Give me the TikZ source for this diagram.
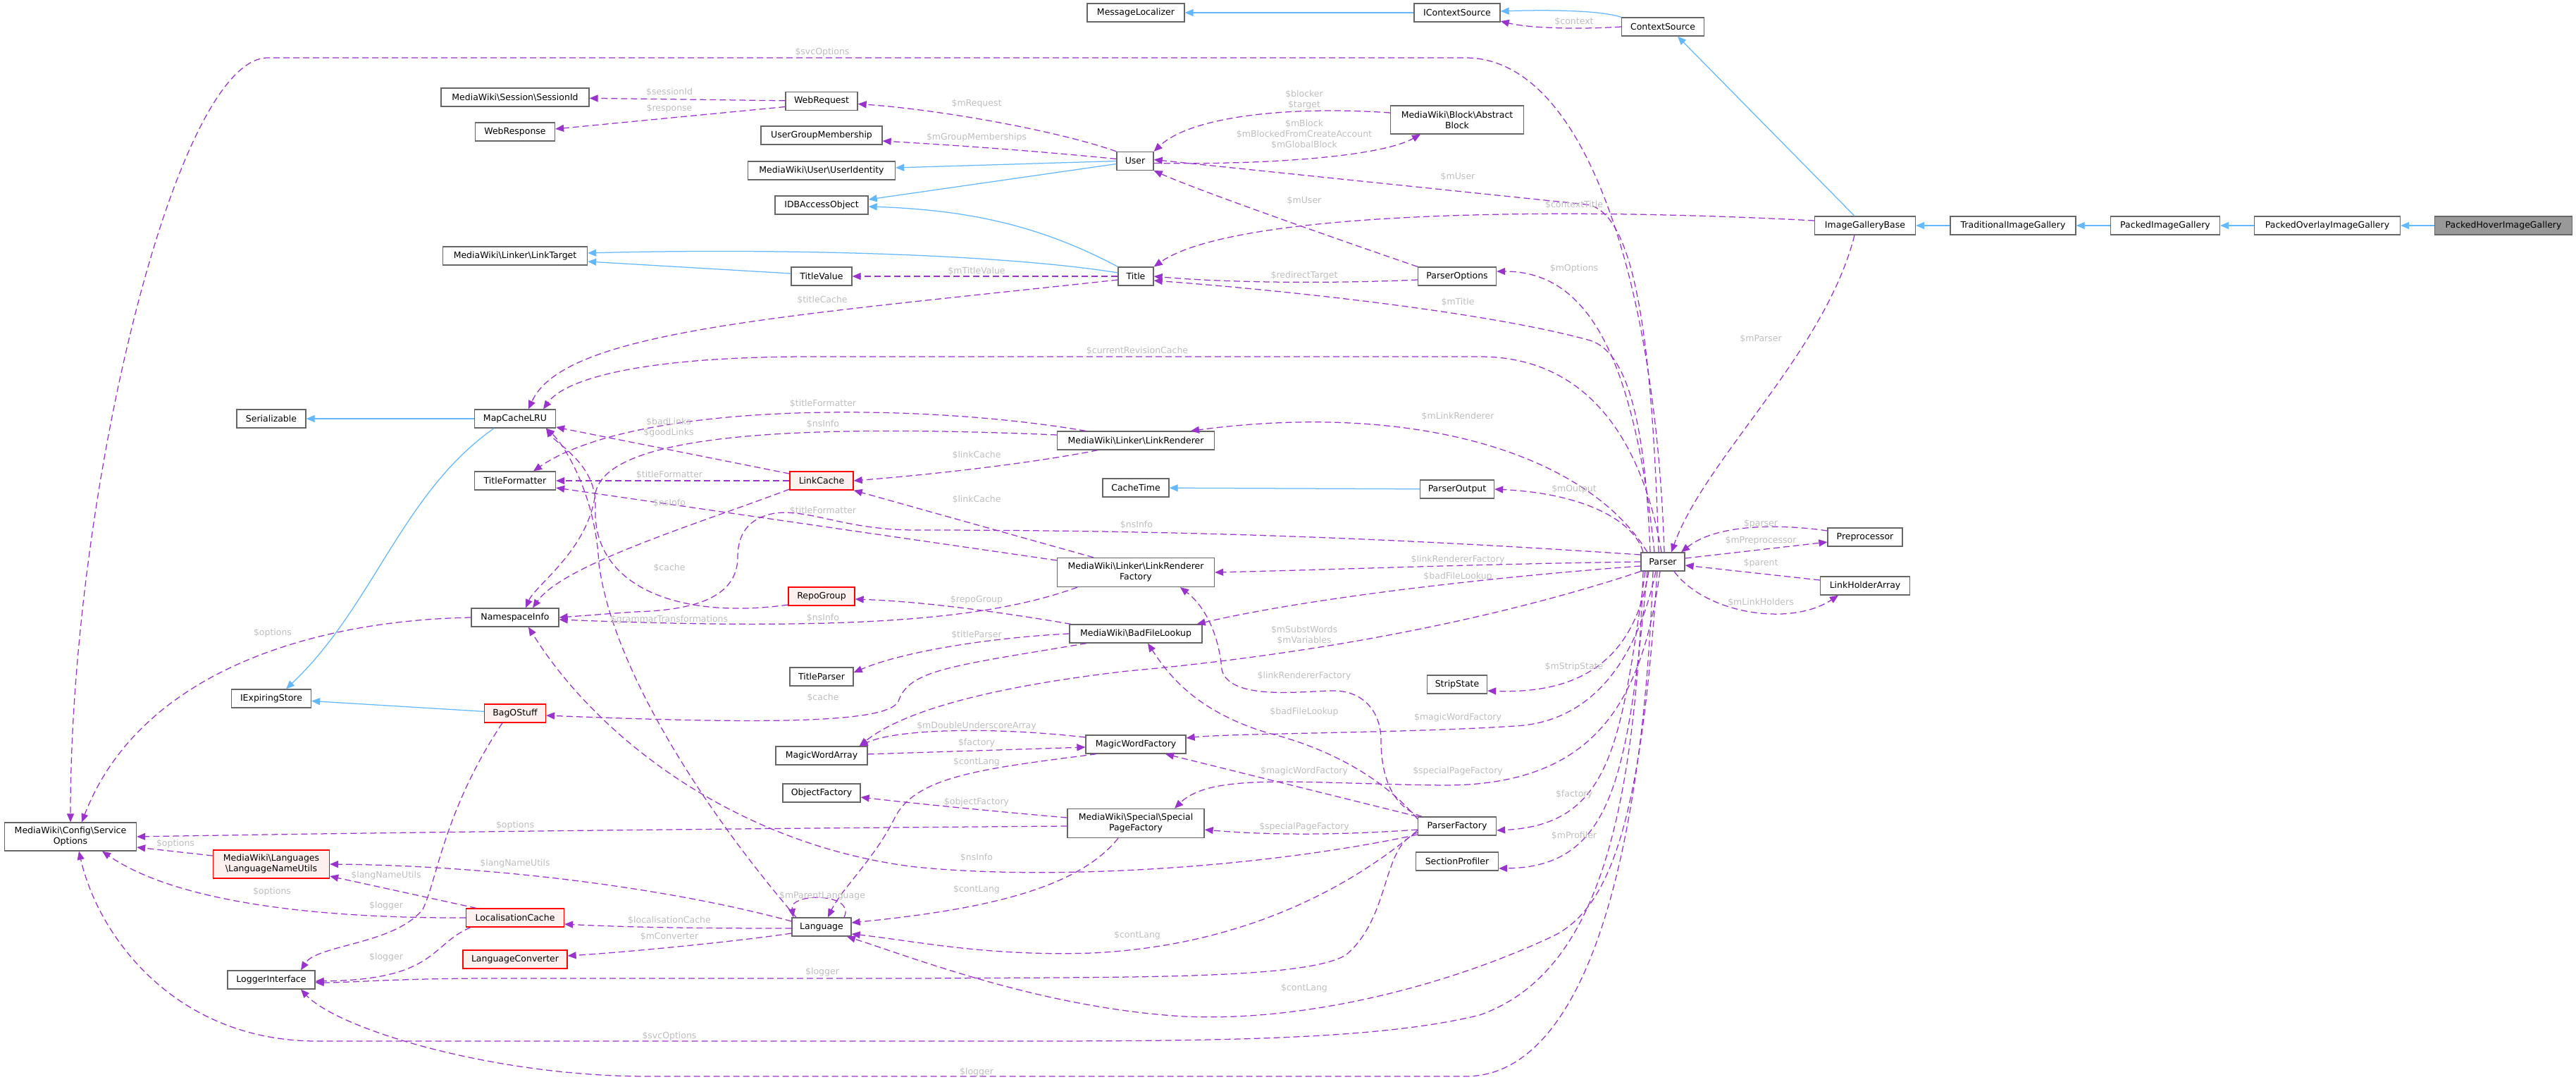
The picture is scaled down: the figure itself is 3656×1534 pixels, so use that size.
\documentclass[tikz,border=0pt]{standalone}
\usepackage{fontspec}
\setmainfont{DejaVu Sans}
\usepackage{tikz}
\usetikzlibrary{arrows.meta}
\definecolor{edgeuse}{HTML}{9A32CD}
\definecolor{edgeinh}{HTML}{63B8FF}
\definecolor{boxline}{HTML}{666666}
\definecolor{lblgray}{HTML}{BEBEBE}
\definecolor{truncfill}{HTML}{FFF0F0}
\definecolor{curfill}{HTML}{999999}
\begin{document}
\begin{tikzpicture}[x = 1pt, y = -1pt,
 cls/.style = {draw = boxline, fill = white, line width = 1.3pt, minimum height = 26pt, inner xsep = 2pt, inner ysep = 2pt, align = center, font = \fontsize{12.5}{15}\selectfont},
 trunc/.style = {cls, draw = red, fill = truncfill},
 curcls/.style = {cls, fill = curfill},
 member/.style = {draw = edgeuse, line width = 1.25pt, dash pattern = on 9pt off 5pt, -{Triangle[length = 12pt, width = 10pt]}},
 inherit/.style = {draw = edgeinh, line width = 1.25pt, -{Triangle[length = 12pt, width = 10pt]}},
 lbl/.style = {text = lblgray, align = center, inner sep = 0pt, font = \fontsize{12.5}{15}\selectfont}]
\fill [white] (0,0) rectangle (3656,1534);
\useasboundingbox (0,0) rectangle (3656,1534);
\node [cls, minimum width = 138pt] (msg) at (1612,18) {MessageLocalizer};
\node [cls, minimum width = 122pt] (ics) at (2068,18) {IContextSource};
\node [cls, minimum width = 117pt] (cs) at (2360,38) {ContextSource};
\node [cls, minimum width = 210pt] (sid) at (731,138) {MediaWiki\textbackslash Session\textbackslash SessionId};
\node [cls, minimum width = 102pt] (wrq) at (1166,143.5) {WebRequest};
\node [cls, minimum width = 113pt] (wrs) at (731,187) {WebResponse};
\node [cls, minimum width = 172pt] (ugm) at (1166,192) {UserGroupMembership};
\node [cls, minimum width = 209pt] (uid) at (1166,242) {MediaWiki\textbackslash User\textbackslash UserIdentity};
\node [cls, minimum width = 132pt] (idb) at (1166,291) {IDBAccessObject};
\node [cls, minimum width = 52pt] (usr) at (1611,228.5) {User};
\node [cls, minimum width = 189pt, minimum height = 40pt] (blk) at (2068,170) {MediaWiki\textbackslash Block\textbackslash Abstract\\Block};
\node [cls, minimum width = 205pt] (ltg) at (731,363) {MediaWiki\textbackslash Linker\textbackslash LinkTarget};
\node [cls, minimum width = 86pt] (tv) at (1166,392) {TitleValue};
\node [cls, minimum width = 50pt] (ttl) at (1612,392) {Title};
\node [cls, minimum width = 111pt] (po) at (2068,392) {ParserOptions};
\node [cls, minimum width = 143pt] (igb) at (2647,320) {ImageGalleryBase};
\node [cls, minimum width = 178pt] (tig) at (2857,320) {TraditionalImageGallery};
\node [cls, minimum width = 155pt] (pig) at (3073,320) {PackedImageGallery};
\node [cls, minimum width = 207pt] (poig) at (3303,320) {PackedOverlayImageGallery};
\node [curcls, minimum width = 195pt] (phig) at (3553,320) {PackedHoverImageGallery};
\node [cls, minimum width = 98pt] (ser) at (385,594) {Serializable};
\node [cls, minimum width = 115pt] (mcl) at (731,594) {MapCacheLRU};
\node [cls, minimum width = 115pt] (tf) at (731,682) {TitleFormatter};
\node [trunc, minimum width = 90pt] (lc) at (1166,682) {LinkCache};
\node [trunc, minimum width = 94pt] (rg) at (1166,846) {RepoGroup};
\node [cls, minimum width = 124pt] (ns) at (731,876) {NamespaceInfo};
\node [cls, minimum width = 90pt] (tp) at (1166,960) {TitleParser};
\node [cls, minimum width = 113pt] (ies) at (385,991) {IExpiringStore};
\node [trunc, minimum width = 87pt] (bag) at (731,1012) {BagOStuff};
\node [cls, minimum width = 223pt] (lr) at (1612,625) {MediaWiki\textbackslash Linker\textbackslash LinkRenderer};
\node [cls, minimum width = 94pt] (ct) at (1612,692) {CacheTime};
\node [cls, minimum width = 105pt] (pout) at (2068,694) {ParserOutput};
\node [cls, minimum width = 223pt, minimum height = 41pt] (lrf) at (1612,812) {MediaWiki\textbackslash Linker\textbackslash LinkRenderer\\Factory};
\node [cls, minimum width = 188pt] (bfl) at (1612,899) {MediaWiki\textbackslash BadFileLookup};
\node [cls, minimum width = 62pt] (par) at (2360,797) {Parser};
\node [cls, minimum width = 85pt] (ss) at (2068,971) {StripState};
\node [cls, minimum width = 106pt] (pre) at (2647,762) {Preprocessor};
\node [cls, minimum width = 127pt] (lha) at (2647,831) {LinkHolderArray};
\node [cls, minimum width = 187pt, minimum height = 40pt] (svc) at (100,1187) {MediaWiki\textbackslash Config\textbackslash Service\\Options};
\node [trunc, minimum width = 165pt, minimum height = 40pt] (lnu) at (385,1226) {MediaWiki\textbackslash Languages\\\textbackslash LanguageNameUtils};
\node [trunc, minimum width = 139pt] (loc) at (731,1302) {LocalisationCache};
\node [trunc, minimum width = 148pt] (lcv) at (731,1361) {LanguageConverter};
\node [cls, minimum width = 124pt] (log) at (385,1390) {LoggerInterface};
\node [cls, minimum width = 130pt] (mwa) at (1166,1072) {MagicWordArray};
\node [cls, minimum width = 110pt] (obf) at (1166,1125) {ObjectFactory};
\node [cls, minimum width = 84pt] (lng) at (1166,1315) {Language};
\node [cls, minimum width = 142pt] (mwf) at (1612,1056) {MagicWordFactory};
\node [cls, minimum width = 194pt, minimum height = 41pt] (spf) at (1612,1168) {MediaWiki\textbackslash Special\textbackslash Special\\PageFactory};
\node [cls, minimum width = 111pt] (pf) at (2068,1172) {ParserFactory};
\node [cls, minimum width = 117pt] (sp) at (2068,1222) {SectionProfiler};
\draw [inherit] (ics) -- (msg);
\draw [inherit] (cs.north west) .. controls (2270,14) and (2190,14) .. ([yshift=2pt]ics.east);
\draw [inherit] ([xshift=-15pt]igb.north) -- ([xshift=21pt]cs.south);
\draw [inherit] (tig) -- (igb);
\draw [inherit] (pig) -- (tig);
\draw [inherit] (poig) -- (pig);
\draw [inherit] (phig) -- (poig);
\draw [inherit] (usr.west) -- ([yshift=4pt]uid.east);
\draw [inherit] ([yshift=-4pt]usr.west) -- ([yshift=8pt]idb.east);
\draw [inherit] (ttl.north west) .. controls (1480,322) and (1380,298) .. ([yshift=-2pt]idb.east);
\draw [inherit] ([yshift=5pt]ttl.west) .. controls (1420,360) and (1100,352) .. ([yshift=4pt]ltg.east);
\draw [inherit] ([yshift=4pt]tv.west) -- ([yshift=-8pt]ltg.east);
\draw [inherit] (mcl) -- (ser);
\draw [inherit] ([xshift=-30pt]mcl.south) .. controls (570,700) and (530,860) .. ([xshift=21pt]ies.north);
\draw [inherit] (bag) -- (ies);
\draw [inherit] (pout) -- (ct);
\draw [member] (cs.west) .. controls (2240,42) and (2170,40) .. ([yshift=-12pt]ics.east) node [lbl] at (2234,31) {\$context};
\draw [member] (wrq) -- (sid) node [lbl] at (950,131) {\$sessionId};
\draw [member] ([yshift=-8pt]wrq.west) -- ([yshift=4pt]wrs.east) node [lbl] at (950,154) {\$response};
\draw [member] (usr.north west) .. controls (1500,185) and (1330,155) .. ([yshift=-4pt]wrq.east) node [lbl] at (1386,147) {\$mRequest};
\draw [member] ([yshift=3pt]usr.west) .. controls (1450,212) and (1320,204) .. ([yshift=-8pt]ugm.east) node [lbl] at (1386,195) {\$mGroupMemberships};
\draw [member] ([yshift=10pt]blk.west) .. controls (1830,150) and (1690,165) .. (usr.north east) node [lbl] at (1851,142) {\$blocker\\\$target};
\draw [member] ([yshift=-3pt]usr.east) .. controls (1800,234) and (1960,222) .. ([xshift=-52pt]blk.south) node [lbl] at (1851,191) {\$mBlock\\\$mBlockedFromCreateAccount\\\$mGlobalBlock};
\draw [member] ([xshift=-6pt]par.north) .. controls (2345,480) and (2320,297) .. (2250,290) -- ([yshift=2pt]usr.east) node [lbl] at (2069,251) {\$mUser};
\draw [member] (po.north west) .. controls (1900,340) and (1700,270) .. (usr.south east) node [lbl] at (1851,285) {\$mUser};
\draw [member] ([yshift=7pt]igb.west) .. controls (2200,293) and (1750,300) .. (ttl.north east) node [lbl] at (2234,291) {\$contextTitle};
\draw [member] ([yshift=-5pt]po.west) .. controls (1900,402) and (1750,402) .. (ttl.east) node [lbl] at (1851,391) {\$redirectTarget};
\draw [member] ([xshift=-18pt]par.north) .. controls (2335,600) and (2310,500) .. (2257,483) .. controls (2100,440) and (1800,410) .. ([yshift=-6pt]ttl.east) node [lbl] at (2069,429) {\$mTitle};
\draw [member] ([xshift=-12pt]par.north) .. controls (2320,520) and (2260,385) .. ([yshift=7pt]po.east) node [lbl] at (2234,381) {\$mOptions};
\draw [member] (ttl) -- (tv) node [lbl] at (1386,385) {\$mTitleValue};
\draw [member] ([yshift=-5pt]ttl.west) .. controls (1100,450) and (800,470) .. ([xshift=19pt]mcl.north) node [lbl] at (1167,426) {\$titleCache};
\draw [member] ([xshift=-2pt]par.north) .. controls (2330,620) and (2250,506) .. (2100,506) -- (1150,506) .. controls (900,506) and (800,540) .. ([xshift=40pt]mcl.north) node [lbl] at (1614,498) {\$currentRevisionCache};
\draw [member] ([xshift=2pt]par.north) .. controls (2350,400) and (2250,82) .. (2080,82) -- (380,82) .. controls (250,82) and (100,700) .. (svc.north) node [lbl] at (1167,74) {\$svcOptions};
\draw [member] ([xshift=-15pt]igb.south) .. controls (2590,500) and (2420,650) .. ([xshift=12pt]par.north) node [lbl] at (2499,481) {\$mParser};
\draw [member] ([xshift=-22pt]par.north) .. controls (2250,640) and (2000,570) .. ([xshift=78pt]lr.north) node [lbl] at (2069,591) {\$mLinkRenderer};
\draw [member] ([xshift=-71pt]lr.north) .. controls (1300,570) and (900,570) .. ([xshift=26pt]tf.north) node [lbl] at (1168,573) {\$titleFormatter};
\draw [member] ([yshift=8pt]lr.west) .. controls (1100,600) and (860,620) .. (845,700) .. controls (835,780) and (760,830) .. ([xshift=15pt]ns.north) node [lbl] at (1168,602) {\$nsInfo};
\draw [member] ([xshift=-54pt]lr.south) .. controls (1450,660) and (1300,675) .. (lc.east) node [lbl] at (1386,646) {\$linkCache};
\draw [member] ([xshift=-60pt]lrf.north) -- (lc.south east) node [lbl] at (1386,709) {\$linkCache};
\draw [member] ([yshift=17pt]lrf.west) -- ([yshift=-10pt]tf.east) node [lbl] at (1168,725) {\$titleFormatter};
\draw [member] ([xshift=-83pt]lrf.south) .. controls (1400,880) and (1200,895) .. ([yshift=-3pt]ns.east) node [lbl] at (1168,877) {\$nsInfo};
\draw [member] ([yshift=10pt]lc.west) -- ([yshift=-12pt]mcl.east) node [lbl] at (949,607) {\$badLinks\\\$goodLinks};
\draw [member] (lc) -- (tf) node [lbl] at (950,674) {\$titleFormatter};
\draw [member] ([yshift=-12pt]lc.west) .. controls (1000,740) and (800,800) .. ([xshift=25pt]ns.north) node [lbl] at (950,714) {\$nsInfo};
\draw [member] ([yshift=10pt]par.west) .. controls (2000,765) and (1700,752) .. (1300,752) .. controls (1200,752) and (1150,722) .. (1100,728) .. controls (1060,735) and (1047,760) .. (1047,790) .. controls (1047,850) and (980,866) .. (900,868) -- (ns.east) node [lbl] at (1613,745) {\$nsInfo};
\draw [member] ([yshift=-12pt]rg.west) .. controls (960,880) and (840,830) .. (845,720) .. controls (848,660) and (790,630) .. ([xshift=44pt]mcl.south) node [lbl] at (950,806) {\$cache};
\draw [member] ([xshift=-36pt]lng.north) .. controls (1000,1150) and (870,950) .. (850,800) .. controls (845,700) and (800,630) .. ([xshift=44pt]mcl.south) node [lbl] at (950,879) {\$grammarTransformations};
\draw [member] ([xshift=-92pt]bfl.north) .. controls (1400,865) and (1300,853) .. ([yshift=-4pt]rg.east) node [lbl] at (1386,851) {\$repoGroup};
\draw [member] (bfl.west) .. controls (1400,905) and (1280,925) .. ([yshift=6pt]tp.east) node [lbl] at (1386,901) {\$titleParser};
\draw [member] ([xshift=-70pt]bfl.south) .. controls (1350,945) and (1290,950) .. (1275,995) .. controls (1260,1025) and (1100,1028) .. ([yshift=-3pt]bag.east) node [lbl] at (1168,990) {\$cache};
\draw [member] (par.west) .. controls (2100,800) and (1900,808) .. (lrf.east) node [lbl] at (2069,794) {\$linkRendererFactory};
\draw [member] ([yshift=-6pt]par.west) .. controls (2100,820) and (1850,850) .. ([xshift=-8pt]bfl.north east) node [lbl] at (2069,818) {\$badFileLookup};
\draw [member] (par.south west) .. controls (2150,870) and (1900,925) .. (1600,952) .. controls (1400,975) and (1280,1010) .. ([xshift=-12pt]mwa.north east) node [lbl] at (1851,901) {\$mSubstWords\\\$mVariables};
\draw [member] ([yshift=10pt]mwf.west) .. controls (1400,1030) and (1270,1035) .. ([xshift=-12pt]mwa.north east) node [lbl] at (1386,1030) {\$mDoubleUnderscoreArray};
\draw [member] (mwa) -- ([yshift=-4pt]mwf.west) node [lbl] at (1386,1054) {\$factory};
\draw [member] ([xshift=-56pt]mwf.south) .. controls (1400,1090) and (1300,1100) .. (1270,1160) .. controls (1240,1220) and (1195,1260) .. ([xshift=9pt]lng.north) node [lbl] at (1386,1081) {\$contLang};
\draw [member] ([xshift=-10pt]par.south) .. controls (2320,950) and (2250,1025) .. (2150,1030) .. controls (2000,1040) and (1750,1040) .. ([yshift=9pt]mwf.east) node [lbl] at (2069,1018) {\$magicWordFactory};
\draw [member] (pf.north west) -- ([xshift=42pt]mwf.south) node [lbl] at (1851,1094) {\$magicWordFactory};
\draw [member] ([xshift=-4pt]par.south) .. controls (2330,1000) and (2260,1114) .. (2050,1114) .. controls (1850,1112) and (1720,1095) .. ([xshift=55pt]spf.north) node [lbl] at (2069,1094) {\$specialPageFactory};
\draw [member] ([yshift=-5pt]pf.west) .. controls (1900,1185) and (1800,1185) .. ([yshift=-9pt]spf.east) node [lbl] at (1851,1173) {\$specialPageFactory};
\draw [member] ([yshift=8pt]spf.west) .. controls (1400,1150) and (1300,1140) .. ([yshift=-6pt]obf.east) node [lbl] at (1386,1138) {\$objectFactory};
\draw [member] ([yshift=-4pt]spf.west) .. controls (1100,1175) and (600,1180) .. (svc.east) node [lbl] at (731,1171) {\$options};
\draw [member] ([xshift=-25pt]spf.south) .. controls (1530,1260) and (1400,1290) .. ([yshift=6pt]lng.east) node [lbl] at (1386,1262) {\$contLang};
\draw [member] ([yshift=-6pt]pf.west) .. controls (1950,1230) and (1800,1340) .. (1550,1352) .. controls (1400,1357) and (1300,1335) .. ([yshift=-10pt]lng.east) node [lbl] at (1614,1327) {\$contLang};
\draw [member] ([xshift=-8pt]par.south) .. controls (2330,1150) and (2290,1290) .. (2200,1330) .. controls (2050,1400) and (1850,1450) .. (1680,1442) .. controls (1480,1430) and (1300,1360) .. ([xshift=36pt]lng.south) node [lbl] at (1851,1402) {\$contLang};
\draw [member] ([xshift=-50pt]pf.north) .. controls (1975,1145) and (1960,1100) .. (1960,1050) .. controls (1960,1010) and (1935,980) .. (1893,980) .. controls (1850,980) and (1745,995) .. (1734,950) .. controls (1730,900) and (1710,860) .. ([xshift=63pt]lrf.south) node [lbl] at (1851,959) {\$linkRendererFactory};
\draw [member] ([yshift=10pt]pf.west) .. controls (1960,1100) and (1880,1060) .. (1800,1040) .. controls (1700,1010) and (1660,960) .. ([xshift=17pt]bfl.south) node [lbl] at (1851,1010) {\$badFileLookup};
\draw [member] ([yshift=-12pt]pf.west) .. controls (1800,1230) and (1500,1250) .. (1300,1230) .. controls (1050,1200) and (850,1050) .. ([xshift=19pt]ns.south) node [lbl] at (1386,1217) {\$nsInfo};
\draw [member] ([yshift=-9pt]pf.west) .. controls (1960,1200) and (1975,1300) .. (1910,1355) .. controls (1850,1390) and (1600,1386) .. (1300,1388) -- (700,1388) .. controls (560,1388) and (500,1394) .. ([yshift=-4pt]log.east) node [lbl] at (1167,1379) {\$logger};
\draw [member] ([xshift=-28pt]par.south) .. controls (2320,1150) and (2270,1380) .. (2100,1440) .. controls (1950,1477) and (1700,1477) .. (1400,1477) -- (450,1477) .. controls (250,1477) and (140,1330) .. ([xshift=12pt]svc.south) node [lbl] at (950,1470) {\$svcOptions};
\draw [member] ([xshift=-14pt]par.south) .. controls (2330,1250) and (2240,1527) .. (2080,1527) -- (920,1527) .. controls (700,1527) and (480,1460) .. ([xshift=42pt]log.south) node [lbl] at (1386,1521) {\$logger};
\draw [member] ([xshift=-20pt]par.south) .. controls (2320,930) and (2250,985) .. ([yshift=-9pt]ss.east) node [lbl] at (2234,946) {\$mStripState};
\draw [member] ([xshift=-25pt]par.south) .. controls (2300,1050) and (2290,1170) .. ([yshift=-6pt]pf.east) node [lbl] at (2234,1127) {\$factory};
\draw [member] ([xshift=-22pt]par.south) .. controls (2310,1100) and (2290,1230) .. ([yshift=-10pt]sp.east) node [lbl] at (2234,1186) {\$mProfiler};
\draw [member] ([xshift=-28pt]par.north) .. controls (2320,740) and (2250,700) .. (pout.east) node [lbl] at (2234,694) {\$mOutput};
\draw [member] ([yshift=5pt]par.east) -- ([yshift=-7pt]pre.west) node [lbl] at (2499,767) {\$mPreprocessor};
\draw [member] ([yshift=9pt]pre.west) .. controls (2540,745) and (2440,740) .. ([xshift=26pt]par.north) node [lbl] at (2499,743) {\$parser};
\draw [member] ([yshift=8pt]lha.west) -- ([yshift=-5pt]par.east) node [lbl] at (2499,799) {\$parent};
\draw [member] ([xshift=16pt]par.south) .. controls (2420,870) and (2540,890) .. ([xshift=-38pt]lha.south) node [lbl] at (2499,855) {\$mLinkHolders};
\draw [member] ([xshift=32pt]lng.north) .. controls (1215,1266) and (1120,1266) .. ([xshift=-40pt]lng.north) node [lbl] at (1167,1271) {\$mParentLanguage};
\draw [member] ([yshift=-2pt]lng.west) .. controls (1000,1317) and (900,1316) .. ([yshift=-9pt]loc.east) node [lbl] at (950,1306) {\$localisationCache};
\draw [member] ([yshift=-9pt]lng.west) .. controls (1050,1335) and (900,1350) .. ([yshift=5pt]lcv.east) node [lbl] at (950,1329) {\$mConverter};
\draw [member] ([yshift=8pt]lng.west) .. controls (950,1260) and (700,1228) .. (lnu.east) node [lbl] at (731,1225) {\$langNameUtils};
\draw [member] ([xshift=-55pt]loc.north) -- ([yshift=-17pt]lnu.east) node [lbl] at (548,1242) {\$langNameUtils};
\draw [member] (loc.west) .. controls (450,1303) and (250,1280) .. ([xshift=45pt]svc.south) node [lbl] at (386,1265) {\$options};
\draw [member] ([xshift=-63pt]loc.south) .. controls (610,1340) and (620,1390) .. ([yshift=-2pt]log.east) node [lbl] at (548,1358) {\$logger};
\draw [member] ([yshift=12pt]lnu.west) -- ([yshift=-15pt]svc.east) node [lbl] at (249,1197) {\$options};
\draw [member] (ns.west) .. controls (450,880) and (200,950) .. ([xshift=16pt]svc.north) node [lbl] at (387,898) {\$options};
\draw [member] ([xshift=-18pt]bag.south) .. controls (630,1150) and (620,1250) .. (600,1290) .. controls (560,1340) and (450,1340) .. ([xshift=42pt]log.north) node [lbl] at (548,1285) {\$logger};
\end{tikzpicture}
\end{document}
